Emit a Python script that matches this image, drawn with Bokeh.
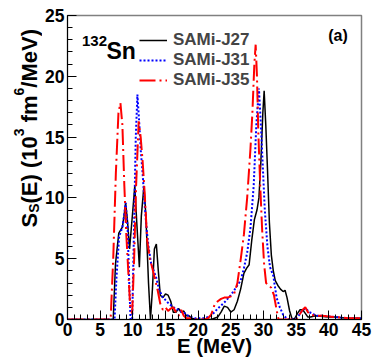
import numpy as np
from bokeh.plotting import figure
from bokeh.layouts import row
from bokeh.models import Legend, LegendItem, Label, FixedTicker
from bokeh.embed import file_html
from bokeh.resources import INLINE

# ---------------- data ----------------
series_names = ["SAMi-J27", "SAMi-J31", "SAMi-J35"]

e_j27 = [0, 7.0, 7.35, 7.85, 8.4, 8.65, 8.9, 9.2, 9.5, 10.0, 10.3, 10.6, 11.0, 11.3, 11.7, 12.0,
         12.4, 12.7, 13.0, 13.3, 13.6, 13.9, 14.2, 14.6, 15.0, 15.4, 15.8, 16.2, 16.6, 17.0, 17.4,
         17.8, 18.2, 18.6, 19.0, 19.5, 20.0, 22.0, 22.5, 23.0, 23.5, 24.0, 24.5, 25.0, 25.5, 26.0,
         26.5, 27.0, 27.4, 27.8, 28.2, 28.6, 29.0, 29.3, 29.6, 29.9, 30.1, 30.35, 30.6, 30.9, 31.2,
         31.5, 31.8, 32.2, 32.6, 33.0, 33.3, 33.6, 34.0, 34.4, 34.8, 35.2, 35.6, 36.0, 36.4, 36.8,
         37.2, 38, 39, 40, 41, 42, 43, 44, 45]
s_j27 = [0, 0, 4.6, 7.1, 7.6, 8.5, 9.6, 8.0, 5.8, 9.0, 11.0, 8.0, 4.3, 8.5, 11.0, 8.5,
         3.0, 0, 2.5, 5.8, 6.2, 4.0, 2.0, 1.8, 2.1, 2.0, 1.5, 0.6, 0.6, 0.9, 0.6,
         0.7, 0.3, 0.3, 0.1, 0.05, 0, 0, 0.1, 0.2, 0.6, 1.1, 1.0, 0.6, 0.8, 1.5,
         2.5, 3.8, 4.2, 4.5, 6.5, 8.2, 9.0, 10.0, 13.0, 17.0, 18.8, 16.0, 12.5, 8.0, 5.3,
         4.0, 3.2, 2.8, 2.5, 2.3, 2.4, 1.8, 0.7, 0, 0.1, 0.5, 0.8, 0.8, 0.5, 0.2,
         0.2, 0.3, 0.25, 0.2, 0.2, 0.15, 0.1, 0.1, 0.1]

e_j31 = [0, 7.2, 7.5, 7.9, 8.4, 8.65, 8.9, 9.2, 9.45, 9.65, 9.9, 10.2, 10.45, 10.7, 11.0, 11.2,
         11.5, 11.8, 12.1, 12.4, 12.8, 13.2, 13.6, 14.0, 14.5, 15.0, 15.5, 16.0, 16.5, 17.0, 17.5,
         18.0, 18.5, 19.0, 19.5, 20.0, 21.0, 22.0, 23.0, 24.0, 25.0, 25.5, 26.0, 26.5, 27.0, 27.5,
         28.0, 28.5, 28.9, 29.3, 29.6, 29.9, 30.2, 30.6, 31.0, 31.5, 32.0, 32.5, 33.0, 33.5, 34.0,
         34.5, 35.0, 35.5, 36.0, 36.5, 37.0, 37.5, 38, 39, 40, 41, 42, 43, 44, 45]
s_j31 = [0, 0, 3.5, 6.8, 7.6, 8.5, 9.6, 7.5, 3.0, 0, 0, 8.0, 15.0, 18.5, 16.0, 14.0,
         12.0, 9.5, 7.5, 6.0, 4.6, 4.0, 3.4, 2.5, 1.9, 1.6, 1.3, 1.1, 0.9, 0.8, 0.6,
         0.5, 0.3, 0.2, 0.1, 0.1, 0.1, 0.3, 0.9, 1.4, 2.0, 2.4, 2.8, 3.2, 4.2, 5.5,
         7.5, 11.0, 16.0, 19.0, 16.0, 12.5, 9.0, 6.0, 4.3, 3.6, 1.8, 1.0, 0.4, 0.1, 0,
         0, 0.1, 0.4, 0.8, 0.9, 0.6, 0.5, 0.3, 0.3, 0.25, 0.2, 0.15, 0.1, 0.1, 0.1]

e_j35 = [0, 6.6, 7.0, 7.4, 7.8, 8.1, 8.4, 8.7, 9.0, 9.3, 9.6, 9.9, 10.2, 10.5, 10.9, 11.2,
         11.5, 11.8, 12.2, 12.6, 13.0, 13.4, 13.8, 14.2, 14.6, 15.0, 15.4, 15.8, 16.2, 16.6, 17.0,
         17.4, 17.8, 18.2, 18.6, 19.0, 20.0, 21.0, 21.5, 22.0, 22.5, 23.0, 23.5, 24.0, 24.5, 25.0,
         25.5, 26.0, 26.5, 27.0, 27.5, 28.0, 28.3, 28.6, 28.8, 29.0, 29.2, 29.5, 29.8, 30.1, 30.4,
         30.8, 31.2, 31.6, 32.0, 32.3, 33.0, 34.0, 35.0, 35.5, 36.0, 36.4, 36.8, 37.2, 38, 39,
         40, 41, 42, 43, 44, 45]
s_j35 = [0, 0, 5.0, 12.0, 17.0, 17.8, 16.0, 11.0, 7.0, 4.0, 1.0, 0.5, 5.0, 11.0, 16.3, 15.0,
         13.0, 10.5, 6.5, 5.0, 4.2, 3.3, 2.4, 1.3, 0.8, 1.0, 0.7, 0.9, 1.0, 0.6, 0.3,
         0.8, 0.3, 0.1, 0.1, 0.05, 0, 0, 0.1, 0.4, 1.2, 1.5, 1.7, 1.8, 1.8, 1.9,
         2.1, 3.0, 4.9, 7.0, 10.0, 14.0, 17.0, 21.0, 22.6, 20.0, 15.5, 11.0, 7.3, 4.5, 3.0,
         2.8, 2.6, 2.0, 0.8, 0, 0, 0, 0, 0.4, 0.8, 1.0, 0.6, 0.4, 0.3, 0.3,
         0.25, 0.2, 0.15, 0.1, 0.1, 0.1]

x_ticks = [0, 5, 10, 15, 20, 25, 30, 35, 40, 45]
y_ticks = [0, 5, 10, 15, 20, 25]
x_minor = list(range(0, 46))
y_minor = list(range(0, 26))
x_title = "E (MeV)"

FONT = "Liberation Sans"
W_LAB = 42          # width of the strip holding the y title
W_TOT, H_TOT = 373, 362

# ---------------- main figure ----------------
p = figure(width=W_TOT - W_LAB, height=H_TOT, x_range=(0, 45), y_range=(0, 25),
           output_backend="svg", toolbar_location=None,
           min_border_left=67 - W_LAB, min_border_right=12, min_border_top=15, min_border_bottom=43)
p.xgrid.visible = False
p.ygrid.visible = False
p.background_fill_color = "white"
p.border_fill_color = "white"
p.outline_line_color = "#808080"
p.outline_line_width = 1.5

p.xaxis.ticker = FixedTicker(ticks=x_ticks, minor_ticks=x_minor)
p.yaxis.ticker = FixedTicker(ticks=y_ticks, minor_ticks=y_minor)
for ax in (p.xaxis[0], p.yaxis[0]):
    ax.major_tick_in = 9
    ax.major_tick_out = 0
    ax.minor_tick_in = 5
    ax.minor_tick_out = 0
    ax.axis_line_color = "black"
    ax.major_tick_line_color = "black"
    ax.minor_tick_line_color = "black"
    ax.major_label_text_font = FONT
    ax.major_label_text_font_style = "bold"
    ax.major_label_text_font_size = "17.5px"
    ax.major_label_text_color = "black"
    ax.major_label_standoff = 3

p.yaxis.axis_label = None
p.xaxis.axis_label = x_title
p.xaxis.axis_label_text_font = FONT
p.xaxis.axis_label_text_font_style = "bold"
p.xaxis.axis_label_text_font_size = "20.5px"
p.xaxis.axis_label_text_color = "black"
p.xaxis.axis_label_standoff = -5

r1 = p.line(e_j27, s_j27, line_color="black", line_width=1.5)
r2 = p.line(e_j31, s_j31, line_color="#0000ff", line_width=2, line_dash="2 2")
r3 = p.line(e_j35, s_j35, line_color="#ff0000", line_width=2, line_dash="16 4 2 4")

legend = Legend(items=[LegendItem(label=n, renderers=[r]) for n, r in zip(series_names, [r1, r2, r3])],
                location=(72, 229), glyph_width=28, glyph_height=20, label_height=20,
                label_standoff=6, spacing=0, padding=0, margin=0,
                border_line_alpha=0, background_fill_alpha=0,
                label_text_font=FONT, label_text_font_style="bold", label_text_font_size="17px")
p.add_layout(legend)

def lab(fig, text, x, y, size, angle=0.0, align="left", baseline="alphabetic"):
    fig.add_layout(Label(x=x, y=y, x_units="screen", y_units="screen", text=text, angle=angle,
                         text_font=FONT, text_font_style="bold", text_font_size=size,
                         text_align=align, text_baseline=baseline, text_color="black"))

# nucleus label and panel tag
lab(p, "132", 14.5, 279, "15px")
lab(p, "Sn", 39, 269, "23px")
lab(p, "(a)", 270.5, 284, "16px", align="center", baseline="middle")

# ---------------- strip with the y title ----------------
q = figure(width=W_LAB, height=H_TOT, x_range=(0, 1), y_range=(0, 1),
           output_backend="svg", toolbar_location=None, min_border=0,
           x_axis_location=None, y_axis_location=None)
q.xgrid.visible = False
q.ygrid.visible = False
q.outline_line_color = None
q.background_fill_color = "white"
q.border_fill_color = "white"

W = {'S': .667, '(': .333, ')': .333, 'E': .667, ' ': .278, '1': .556, '0': .556, '3': .556,
     '6': .556, 'f': .333, 'm': .889, '/': .278, 'M': .833, 'e': .556, 'V': .667}
F_MAIN, F_SCR = 22, 14
pieces = [("S", "main", 0), ("S", "sub", 0), ("(E) (10", "main", 0), ("3", "sup", 0),
          ("fm", "main", 0.278), ("6", "sup", 0), ("/MeV)", "main", 0)]
xb = {"main": 29, "sub": 33.5, "sup": 18}
pos = H_TOT - 270.0
for txt, kind, gap in pieces:
    size = F_MAIN if kind == "main" else F_SCR
    pos += gap * F_MAIN
    lab(q, txt, xb[kind], pos, f"{size}px", angle=np.pi / 2)
    pos += sum(W[c] for c in txt) * size

layout = row(q, p, spacing=0)
open("out.html", "w").write(file_html(layout, INLINE))
